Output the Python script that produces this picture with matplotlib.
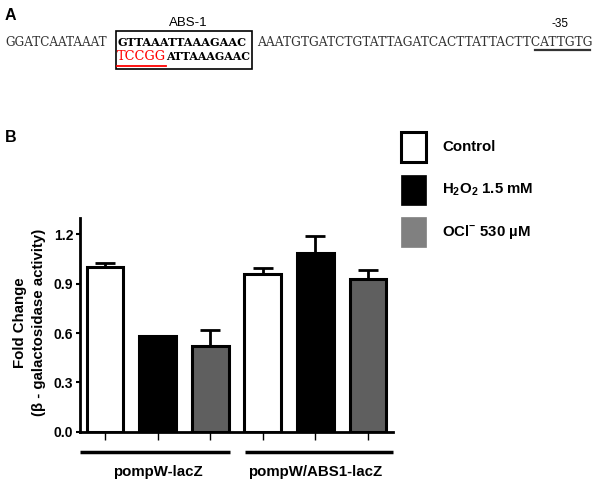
import numpy as np
import matplotlib
matplotlib.use('Agg')
import matplotlib.pyplot as plt
from matplotlib.patches import Rectangle
from matplotlib.lines import Line2D

plt.rcParams['font.family'] = ['Liberation Sans', 'DejaVu Sans']
plt.rcParams['mathtext.fontset'] = 'custom'
plt.rcParams['mathtext.rm'] = 'Liberation Sans'
plt.rcParams['mathtext.bf'] = 'Liberation Sans:bold'

# data
groups = ['pompW-lacZ', 'pompW/ABS1-lacZ']
conditions = ['Control', r'H$_\mathbf{2}$O$_\mathbf{2}$ 1.5 mM', r'OCl$^{\mathbf{-}}$ 530 µM']
means = [[1.00, 0.58, 0.52],
         [0.96, 1.09, 0.93]]
errs = [[0.025, 0.005, 0.10],
        [0.035, 0.10, 0.055]]
bar_colors = ['white', 'black', '#5f5f5f']
legend_colors = ['white', 'black', '#808080']
yticks = [0.0, 0.3, 0.6, 0.9, 1.2]

W, H = 600, 491
fig = plt.figure(figsize=(6, 4.91), dpi=100)


def fx(px):
    return px / W


def fy(py):
    return 1 - py / H


renderer = fig.canvas.get_renderer()


def fit_text(x, y, s, width, **kw):
    t = fig.text(fx(x), fy(y), s, ha='left', va='center', fontsize=10, **kw)
    w = t.get_window_extent(renderer).width
    t.set_fontsize(10 * width / w)
    return t


# ---- panel A: sequence ----
fig.text(fx(5), fy(15), 'A', fontsize=11.5, fontweight='bold', va='center')
fig.text(fx(188), fy(23), 'ABS-1', fontsize=9.5, ha='center', va='center')
fig.text(fx(560), fy(24), '-35', fontsize=8.5, ha='center', va='center')
serif = ['DejaVu Serif']
fit_text(5, 42, 'GGATCAATAAAT', 102, family=serif, color='#333333')
fit_text(118, 42, 'GTTAAATTAAAGAAC', 129, family=serif, fontweight='bold')
fit_text(117, 57, 'TCCGG', 49, family=serif, color='red')
fit_text(166, 57, 'ATTAAAGAAC', 84, family=serif, fontweight='bold')
fit_text(257, 42, 'AAATGTGATCTGTATTAGATCACTTATTACTTCATTGTG', 338,
         family=serif, color='#333333')
fig.add_artist(Rectangle((fx(116), fy(69)), fx(252) - fx(116), fy(31) - fy(69),
                         transform=fig.transFigure, fill=False, lw=1.2, ec='black'))
fig.add_artist(Line2D([fx(117), fx(166)], [fy(66), fy(66)], transform=fig.transFigure,
                      color='red', lw=1.3))
fig.add_artist(Line2D([fx(535), fx(590)], [fy(50), fy(50)], transform=fig.transFigure,
                      color='#333333', lw=1.6))

# ---- panel B: bar chart ----
fig.text(fx(5), fy(137), 'B', fontsize=11.5, fontweight='bold', va='center')

ax = fig.add_axes([fx(80), fy(431.7), fx(393) - fx(80), fy(218) - fy(431.7)])
n_cond = len(conditions)
x = np.arange(len(groups) * n_cond)
vals = np.array(means).ravel()
ers = np.array(errs).ravel()
cols = bar_colors * len(groups)
ax.bar(x, vals, width=0.7, color=cols, edgecolor='black', linewidth=2.2, zorder=2)
ax.errorbar(x, vals, yerr=[np.zeros_like(ers), ers], fmt='none', ecolor='black',
            elinewidth=2.0, capsize=7.5, capthick=2.0, zorder=1)

ax.set_xlim(-0.475, 5.475)
ax.set_ylim(0, 1.3)
ax.set_yticks(yticks)
ax.set_yticklabels(['%.1f' % v for v in yticks], fontweight='bold', fontsize=10)
ax.set_xticks(x)
ax.set_xticklabels([])
ax.tick_params(axis='y', length=3, width=1.5, pad=2)
ax.tick_params(axis='x', length=6, width=1.0)
for s in ['top', 'right']:
    ax.spines[s].set_visible(False)
for s in ['left', 'bottom']:
    ax.spines[s].set_linewidth(2.0)

ax.set_ylabel('Fold Change\n(β - galactosidase activity)', fontweight='bold',
              fontsize=10.8, linespacing=1.4)
ax.yaxis.set_label_coords(-0.11, 0.51)

# group lines and labels under axis
tr = ax.get_xaxis_transform()
for i, g in enumerate(groups):
    x0 = x[i * n_cond] - 0.475 if i == 0 else x[i * n_cond] - 0.33
    x1 = x[i * n_cond + n_cond - 1] + 0.37 if i == 0 else x[-1] + 0.475
    ax.plot([x0, x1], [-0.095, -0.095], transform=tr, color='black', lw=2.5,
            clip_on=False, solid_capstyle='butt')
    ax.text(x[i * n_cond + 1], -0.19, g, transform=tr, ha='center', va='center',
            fontweight='bold', fontsize=10.8)

# legend drawn by hand
box_tops = [132, 175, 217]
for top, c, lab in zip(box_tops, legend_colors, conditions):
    fig.add_artist(Rectangle((fx(401), fy(top + 30)), fx(25), fy(0) - fy(30),
                             transform=fig.transFigure, fc=c,
                             ec='black' if c == 'white' else c,
                             lw=2.2 if c == 'white' else 0.5))
    fig.text(fx(442), fy(top + 15), lab, fontsize=10.8, fontweight='bold', va='center')

fig.savefig('out.png', dpi=100)
